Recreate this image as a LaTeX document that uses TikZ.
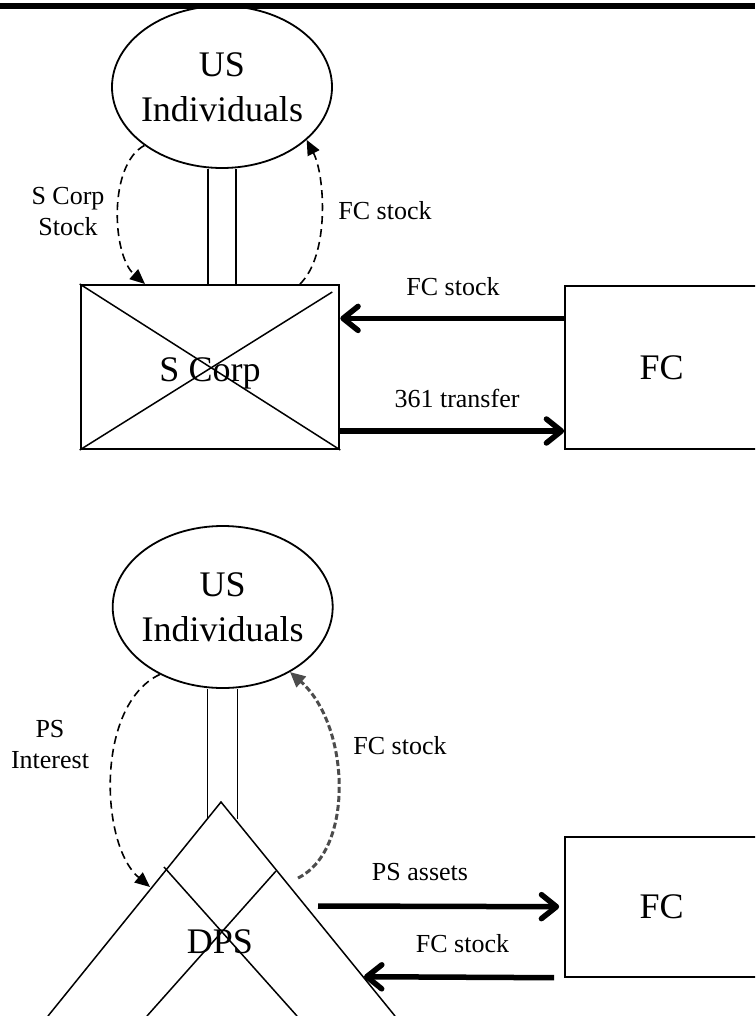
\documentclass[tikz,border=0pt]{standalone}
\usepackage{fontspec}
\setmainfont{Liberation Serif}
\usetikzlibrary{shapes.geometric,arrows.meta}
\newcommand{\bigfont}{\fontsize{36}{45}\selectfont}
\newcommand{\smallfont}{\fontsize{26}{31}\selectfont}
\begin{document}
\begin{tikzpicture}[x=1pt,y=-1pt,
	party/.style={draw, ellipse, line width=1.8pt, minimum width=220pt, minimum height=162pt, inner sep=0pt},
	entity/.style={draw, rectangle, line width=2pt, inner sep=0pt},
	bigtext/.style={font=\bigfont, align=center, inner sep=0pt},
	flowtext/.style={font=\smallfont, align=center, inner sep=0pt},
	flow/.style={line width=5.5pt, -{Straight Barb[length=15pt,width=24pt,round]}},
	hop/.style={line width=1.6pt, dash pattern=on 8pt off 5pt, -{Triangle[length=15pt,width=13pt]}},
	greyhop/.style={draw=black!70, line width=3pt, dash pattern=on 6pt off 3pt, -{Triangle[length=15pt,width=14pt]}},
	stem/.style={line width=1.5pt}]
	\useasboundingbox (0,0) rectangle (755,1016);
	\clip (0,0) rectangle (755,1016);
	% top: S Corp
	\node[party] (usi1) at (222,87) {};
	\node[bigtext] (usi1txt) at (usi1) {US\\Individuals};
	\node[entity, minimum width=258.6pt, minimum height=164pt] (scorp) at (210,367) {};
	\node[bigtext] (scorptxt) at (210,373) {S Corp};
	\node[entity, minimum width=193pt, minimum height=163.3pt, font=\bigfont] (fc1) at (661.7,367.4) {FC};
	\draw[stem] (scorp.north west) -- (scorp.south east);
	\draw[stem] (scorp.south west) -- ([xshift=-8pt,yshift=-8pt]scorp.north east);
	\foreach \dx in {-14,14}
		\draw[stem] ([xshift=\dx pt]usi1.south) -- ++(0,117);
	\draw[hop] (usi1.217) .. controls (108,165) and (112,255) .. ([xshift=-65pt]scorp.north);
	\draw[hop] ([xshift=90pt]scorp.north) .. controls (330,255) and (325,175) .. (usi1.328);
	\coordinate (fcout) at ([yshift=49pt]fc1.west);
	\draw[flow] (fcout) -- (fcout -| scorp.east);
	\coordinate (scout) at ([yshift=-64pt]scorp.east);
	\draw[flow] (scout) -- (scout -| fc1.west);
	\node[flowtext] (scstock) at (68,212) {S Corp\\Stock};
	\node[flowtext] (fcstock2) at (385,211) {FC stock};
	\node[flowtext] (fcstock1) at (453,287) {FC stock};
	\node[flowtext] (transfer) at (457,398) {361 transfer};
	% bottom: DPS
	\node[party] (usi2) at (222.7,607) {};
	\node[bigtext] (usi2txt) at (usi2) {US\\Individuals};
	\node[entity, minimum width=193pt, minimum height=140pt, font=\bigfont] (fc2) at (661.7,906.7) {FC};
	\coordinate (apex) at (221,802);
	\draw[stem] (48,1016) -- (apex) -- (395,1016);
	\draw[stem] (164,867) -- (297,1016);
	\draw[stem] (276,871) -- (147,1016);
	\node[bigtext] (dps) at (220,941.7) {DPS};
	\foreach \dx in {-15,15}
		\draw[stem] ([xshift=\dx pt]usi2.south) -- ++(0,130);
	\coordinate (psin) at (150,887);
	\coordinate (dpsout) at (298,878);
	\draw[hop] (usi2.227) .. controls (95,705) and (100,845) .. (psin);
	\draw[greyhop] (dpsout) .. controls (355,850) and (350,725) .. (usi2.316);
	\coordinate (psout) at (318,906);
	\draw[flow] (psout) -- ([xshift=-5pt]fc2.west);
	\coordinate (dpsin) at (364,976.7);
	\draw[flow] ([xshift=-10pt]fc2.south west) -- (dpsin);
	\node[flowtext] (psint) at (50,745) {PS\\Interest};
	\node[flowtext] (fcstock3) at (400,746) {FC stock};
	\node[flowtext] (psassets) at (420,872.5) {PS assets};
	\node[flowtext] (fcstock4) at (462.5,944) {FC stock};
	% rule at top
	\fill (0,3) rectangle (755,9);
\end{tikzpicture}
\end{document}
